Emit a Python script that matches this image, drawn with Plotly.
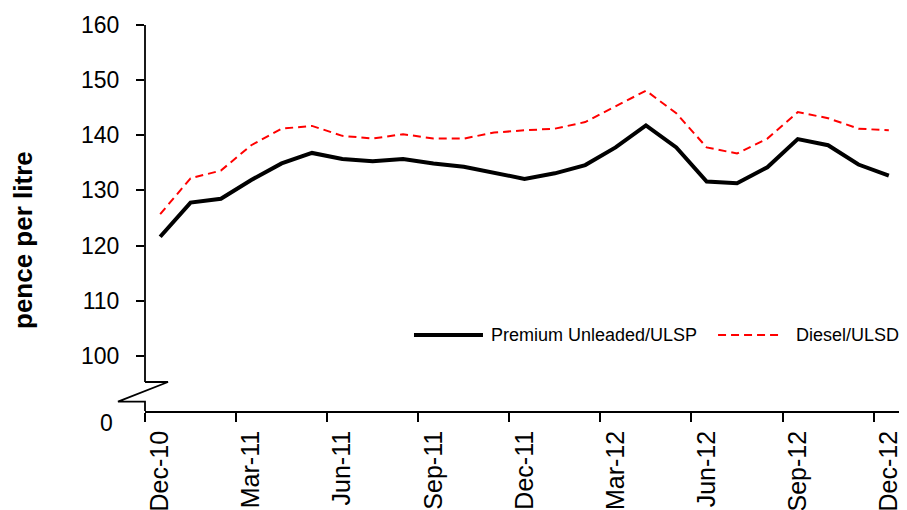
import plotly.graph_objects as go

months = ['Dec-10', 'Jan-11', 'Feb-11', 'Mar-11', 'Apr-11', 'May-11', 'Jun-11', 'Jul-11',
          'Aug-11', 'Sep-11', 'Oct-11', 'Nov-11', 'Dec-11', 'Jan-12', 'Feb-12', 'Mar-12',
          'Apr-12', 'May-12', 'Jun-12', 'Jul-12', 'Aug-12', 'Sep-12', 'Oct-12', 'Nov-12',
          'Dec-12']

ulsp = [121.6, 127.8, 128.5, 131.9, 134.9, 136.8, 135.7, 135.3, 135.7, 134.9, 134.3,
        133.2, 132.1, 133.1, 134.6, 137.8, 141.8, 137.8, 131.6, 131.3, 134.2, 139.3,
        138.2, 134.7, 132.7]

ulsd = [125.7, 132.2, 133.6, 138.2, 141.2, 141.7, 139.9, 139.4, 140.2, 139.4, 139.4,
        140.5, 140.9, 141.2, 142.4, 145.2, 148.1, 144.0, 137.8, 136.7, 139.4, 144.2,
        143.1, 141.2, 140.9]

series_names = ['Premium Unleaded/ULSP', 'Diesel/ULSD']
y_ticks = [100, 110, 120, 130, 140, 150, 160]
x_labels = months[::3]

FONT = 'Arial, Liberation Sans, sans-serif'
black_line = dict(color='black', width=4)
red_line = dict(color='#ff0000', width=2, dash='8px,5px')

fig = go.Figure()
fig.add_trace(go.Scatter(x=months, y=ulsp, mode='lines', name=series_names[0], line=black_line))
fig.add_trace(go.Scatter(x=months, y=ulsd, mode='lines', name=series_names[1], line=red_line))

# page body has an 8px margin, so the figure is 8px smaller and shifted
fig.update_layout(
    width=899, height=502,
    margin=dict(l=137, r=3, t=17, b=99),
    plot_bgcolor='white', paper_bgcolor='white',
    font=dict(family=FONT, color='black'),
    showlegend=False,
)

fig.update_xaxes(
    type='category', range=[-0.5, 24.5], automargin=False,
    tickmode='array', tickvals=x_labels, ticktext=x_labels,
    tickson='boundaries', ticks='outside', ticklen=9, tickwidth=1.8, tickcolor='black',
    tickangle=-90, tickfont=dict(size=25), ticklabelstandoff=8,
    showline=True, linecolor='black', linewidth=1.8,
    showgrid=False, zeroline=False,
)

fig.update_yaxes(
    range=[90, 160], tickvals=y_ticks, automargin=False,
    ticks='outside', ticklen=8, tickwidth=1.8, tickcolor='black',
    tickfont=dict(size=23), ticklabelstandoff=12,
    showline=False, showgrid=False, zeroline=False,
)

# broken y axis drawn as line pieces (paper coords)
ax_line = dict(color='black', width=1.8)
fig.add_shape(type='line', xref='paper', yref='paper', x0=0, x1=0, y0=0.0751, y1=1, line=ax_line)
fig.add_shape(type='path', xref='paper', yref='paper',
              path='M 0 0.0751 L 0.0303 0.0751 L -0.0356 0.0241 L 0 0.0241 L 0 0',
              line=ax_line)

# legend, drawn by hand to get the long line samples
leg_y = 0.197
fig.add_shape(type='line', xref='paper', yref='paper', x0=0.3544, x1=0.4453, y0=leg_y, y1=leg_y,
              line=black_line)
fig.add_annotation(text=series_names[0], xref='paper', yref='paper', x=0.4532, y=leg_y,
                   xanchor='left', yanchor='middle', showarrow=False, font=dict(size=18))
fig.add_shape(type='line', xref='paper', yref='paper', x0=0.755, x1=0.838, y0=leg_y, y1=leg_y,
              line=red_line)
fig.add_annotation(text=series_names[1], xref='paper', yref='paper', x=0.855, y=leg_y,
                   xanchor='left', yanchor='middle', showarrow=False, font=dict(size=18))

fig.add_annotation(text='0', xref='paper', yref='paper', x=0, y=-0.031, xshift=-39,
                   showarrow=False, font=dict(size=23), xanchor='center', yanchor='middle')
fig.add_annotation(text='<b>pence per litre</b>', xref='paper', yref='paper', x=0, y=0.443,
                   xshift=-122, textangle=-90, showarrow=False, font=dict(size=26),
                   xanchor='center', yanchor='middle')

fig.write_html('out.html')
